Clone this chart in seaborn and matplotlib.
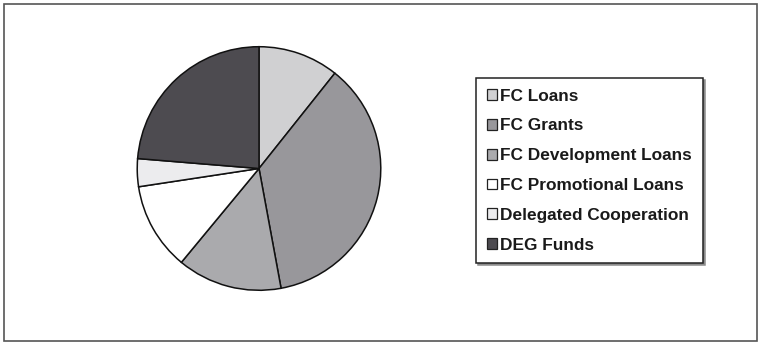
import matplotlib
matplotlib.use("Agg")
import matplotlib.pyplot as plt
from matplotlib.patches import Patch, Rectangle
import seaborn as sns

# Shares of the financing instruments (percent)
categories = ["FC Loans", "FC Grants", "FC Development Loans",
              "FC Promotional Loans", "Delegated Cooperation", "DEG Funds"]
shares = [10.7, 36.4, 13.9, 11.6, 3.7, 23.7]
colors = ["#d0d0d2", "#98979b", "#aaaaad", "#ffffff", "#ececee", "#4d4b50"]

sns.set_theme(style="white")
plt.rcParams["font.family"] = ["Liberation Sans", "DejaVu Sans"]

W, H = 758, 342
fig = plt.figure(figsize=(W / 100, H / 100), dpi=100)
fig.patch.set_facecolor("white")

# outer frame
fig.add_artist(Rectangle((4 / W, 1 / H), (W - 5) / W, (H - 5) / H,
                         transform=fig.transFigure, fill=False,
                         edgecolor="#555555", linewidth=1.2))

cx, cy, r = 259, 168.5, 123
ax = fig.add_axes([(cx - r) / W, (H - cy - r) / H, 2 * r / W, 2 * r / H])
ax.pie(shares, colors=colors, startangle=90, counterclock=False,
       radius=1.0,
       wedgeprops=dict(edgecolor="#111111", linewidth=1.1))
ax.set_xlim(-1.01, 1.01)
ax.set_ylim(-1.01, 1.01)
ax.set_aspect("equal")
ax.axis("off")

handles = [Patch(facecolor=c, edgecolor="#222222", linewidth=0.9) for c in colors]
leg = fig.legend(handles, categories, loc="upper left",
                 bbox_to_anchor=(476 / W, (H - 78) / H),
                 bbox_transform=fig.transFigure,
                 frameon=True, fancybox=False,
                 shadow={"ox": 1.2, "oy": -1.2, "color": "0.55", "alpha": 1},
                 prop={"weight": "bold", "size": 12.4},
                 handlelength=0.58, handleheight=0.58, handletextpad=0.22,
                 labelspacing=0.86, borderpad=0.62, borderaxespad=0,
                 edgecolor="#222222", framealpha=1)
leg.get_frame().set_linewidth(1.1)
for t in leg.get_texts():
    t.set_color("#1a1a1a")

fig.savefig("out.png", dpi=100)
